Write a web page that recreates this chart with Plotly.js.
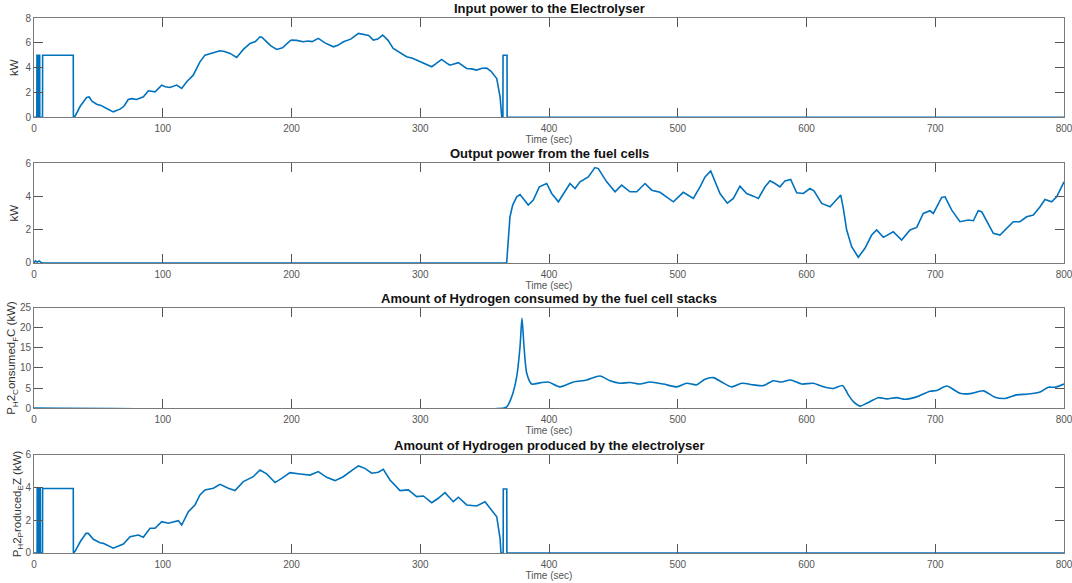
<!DOCTYPE html>
<html>
<head>
<meta charset="utf-8">
<script src="https://cdn.plot.ly/plotly-3.0.1.min.js"></script>
<style>html,body{margin:0;padding:0;background:#fff;}#chart{width:1072px;height:583px;}</style>
</head>
<body>
<div id="chart"></div>
<script>
// Panel 1: Input power to the Electrolyser (kW)
const tInput = [0, 2.2, 2.3, 3.1, 3.2, 3.5, 3.6, 4.4, 4.5, 6.6, 6.7, 30.5, 30.6,
  31.9, 36, 40.9, 42.9, 45, 48.7, 52, 56.4, 61.6, 66.8,
  70, 73.2, 76, 79.7, 82, 85, 88.8, 94, 99.2, 102,
  105.6, 110.8, 114.7, 118.6, 123.7, 128.9, 132.8, 136, 139.3, 144.5,
  148, 152.3, 157.4, 162.6, 167.8, 172, 175.5, 177, 180.7, 184,
  188.5, 193, 198.8, 200, 204, 209, 213, 216, 220.8, 226,
  232.5, 236, 240.3, 246, 252, 257, 260, 263.5, 267, 270.8,
  275, 279, 284, 289.4, 294, 299.8, 304, 308.9, 312, 316.6,
  320, 323, 329.6, 336, 340, 343.8, 348, 351.6, 355, 359.4,
  362, 363.3, 364.2, 364.3, 367.4, 367.5, 800];
const pInput = [0, 0, 5, 5, 0, 0, 5, 5, 0, 0, 5, 5, 0,
  0.09, 0.9, 1.59, 1.63, 1.3, 1.05, 0.95, 0.7, 0.43, 0.65,
  0.9, 1.43, 1.5, 1.43, 1.55, 1.64, 2.13, 2.05, 2.59, 2.45,
  2.4, 2.59, 2.32, 2.86, 3.39, 4.47, 5.01, 5.1, 5.2, 5.36,
  5.3, 5.15, 4.82, 5.47, 5.95, 6.1, 6.49, 6.45, 6.08, 5.75,
  5.47, 5.6, 6.16, 6.22, 6.2, 6.09, 6.15, 6.1, 6.36, 6.0,
  5.68, 5.8, 6.09, 6.3, 6.76, 6.63, 6.6, 6.22, 6.3, 6.63,
  6.2, 5.55, 5.2, 4.88, 4.75, 4.47, 4.3, 4.07, 4.3, 4.66,
  4.4, 4.2, 4.4, 3.93, 3.9, 3.8, 3.95, 3.97, 3.7, 3.12,
  1.64, 0, 0, 5, 5, 0, 0];

// Panel 2: Output power from the fuel cells (kW)
const tOutput = [0, 1, 2.5, 4, 5.5, 7, 367.1, 368.4, 369.7, 371.8,
  374.9, 377.5, 383.9, 387.8, 392.5, 398.2, 402.1, 407.3, 416.3, 420.2,
  424.1, 430.5, 435.7, 438.3, 444.8, 451.3, 456.4, 462.9, 468.1, 474.6,
  479.8, 486.2, 496.6, 504.3, 512.1, 517.3, 521.2, 525.6, 532.8, 538.5,
  543.2, 548.3, 553.5, 558.7, 562.6, 567.8, 571.7, 575.5, 579.4, 583.3,
  587.7, 592.4, 597.5, 602.7, 605.8, 611.8, 618.3, 623.4, 626.6, 628.6,
  631.2, 635.1, 640.2, 645.4, 650.6, 654.5, 659.7, 667.4, 673.9, 680.4,
  685.6, 690.7, 695.9, 698.5, 705, 707.6, 712.8, 719.2, 725.7, 729.6,
  733.4, 736.1, 740, 745.1, 750.3, 755.5, 760.6, 765.8, 771, 776.2,
  781.4, 785.2, 790.4, 794.3, 800];
const pOutput = [0, 0.12, 0.05, 0.12, 0.03, 0, 0, 1.78, 2.78, 3.48,
  3.98, 4.12, 3.48, 3.78, 4.58, 4.78, 4.18, 3.68, 4.78, 4.48,
  4.88, 5.18, 5.74, 5.68, 4.88, 4.28, 4.68, 4.28, 4.28, 4.78,
  4.38, 4.25, 3.68, 4.25, 3.88, 4.58, 5.18, 5.54, 4.18, 3.6,
  3.88, 4.62, 4.18, 4.02, 3.88, 4.58, 4.94, 4.78, 4.58, 4.94,
  5.02, 4.22, 4.18, 4.48, 4.34, 3.58, 3.38, 3.82, 4.08, 3.28,
  1.98, 0.98, 0.34, 0.88, 1.68, 1.98, 1.54, 1.88, 1.38, 1.98,
  2.14, 2.98, 3.14, 2.98, 3.94, 3.98, 3.18, 2.48, 2.58, 2.54,
  3.14, 3.08, 2.48, 1.78, 1.68, 2.08, 2.48, 2.48, 2.78, 2.88,
  3.38, 3.82, 3.68, 3.98, 4.88];

// Panel 3: Amount of Hydrogen consumed by the fuel cell stacks (kW)
const tConsumed = [0, 365, 367.1, 371, 374.9, 377.5, 379, 380.6, 382.7, 386.6,
  393, 399.5, 408.5, 418.9, 429.3, 439.6, 447.4, 455.1, 462.9, 470.7,
  478.4, 488.8, 499.2, 506.9, 514.7, 521.2, 527.6, 534.1, 541.9, 549.7,
  558.7, 566.4, 574.2, 580.7, 587.7, 596.3, 605.3, 613.1, 620.8, 628.1,
  632.5, 636.4, 641.6, 646.8, 655.8, 662.3, 670, 676.5, 685.6, 695.9,
  701.1, 708.9, 719.2, 727, 737.3, 746.4, 754.2, 763.2, 772.3, 781.4,
  787.8, 793, 800];
const pConsumed = [0, 0, 0.3, 2.8, 7.8, 15.3, 22.4, 15.3, 8.7, 6.0,
  6.3, 6.5, 5.3, 6.5, 7.0, 8.0, 6.8, 6.2, 6.4, 6.0,
  6.5, 6.0, 5.3, 6.2, 5.8, 7.2, 7.6, 6.5, 5.3, 6.2,
  5.8, 5.6, 6.8, 6.5, 7.0, 6.0, 6.2, 5.3, 4.9, 5.6,
  3.3, 1.6, 0.5, 1.2, 2.6, 2.3, 2.6, 2.2, 2.8, 4.2,
  4.4, 5.5, 3.7, 3.6, 4.3, 2.7, 2.4, 3.3, 3.5, 4.0,
  5.2, 5.2, 6.0];

// Panel 4: Amount of Hydrogen produced by the electrolyser (kW)
const tProduced = [0, 2.4, 2.5, 3.3, 3.4, 3.8, 3.9, 4.9, 5.0, 6.6, 6.7, 30.5, 30.6,
  31.9, 36, 40.4, 42.2, 46.1, 51.3, 53.8, 61.6, 69.4, 74.6,
  81, 84.9, 90.1, 94, 99.2, 104.3, 112.1, 114.7, 119.9, 125,
  128.9, 132.8, 139.3, 144.5, 150.9, 156.1, 162.6, 170.3, 175.5, 180.7,
  187.2, 192.4, 198.8, 206.6, 214.4, 220.8, 227.3, 233.8, 240.2, 248,
  252, 257, 262.3, 267.4, 271.3, 276.5, 284.3, 290.7, 297.2, 302.4,
  308.9, 314, 319.2, 325.7, 329.6, 336.1, 343.8, 350.3, 355.5, 359.4,
  362, 362.7, 364.4, 364.5, 367.2, 367.3, 800];
const pProduced = [0, 0, 3.95, 3.95, 0, 0, 3.95, 3.95, 0, 0, 3.95, 3.95, 0,
  0.1, 0.7, 1.2, 1.2, 0.84, 0.63, 0.59, 0.29, 0.55, 1.0,
  1.1, 0.96, 1.51, 1.51, 1.92, 1.82, 1.98, 1.71, 2.53, 2.94,
  3.55, 3.86, 3.96, 4.2, 3.96, 3.82, 4.37, 4.67, 5.08, 4.84,
  4.31, 4.57, 4.92, 4.84, 4.77, 4.98, 4.63, 4.43, 4.67, 5.12,
  5.33, 5.18, 4.88, 4.94, 5.12, 4.47, 3.82, 3.86, 3.45, 3.49,
  3.08, 3.35, 3.69, 3.14, 3.41, 2.94, 2.88, 3.14, 2.63, 2.22,
  0.9, 0, 0, 3.92, 3.92, 0, 0];

const xTicks = [0, 100, 200, 300, 400, 500, 600, 700, 800];
const yTicks1 = [0, 2, 4, 6, 8];
const yTicks2 = [0, 2, 4, 6];
const yTicks3 = [0, 5, 10, 15, 20, 25];
const yTicks4 = [0, 2, 4, 6];

const panelTitles = ['Input power to the Electrolyser', 'Output power from the fuel cells',
  'Amount of Hydrogen consumed by the fuel cell stacks', 'Amount of Hydrogen produced by the electrolyser'];
const yTitles = ['kW', 'kW', 'P<sub>H</sub>2<sub>C</sub>onsumed<sub>F</sub>C (kW)', 'P<sub>H</sub>2<sub>P</sub>roduced<sub>E</sub>Z (kW)'];
const xTitle = 'Time (sec)';

const FONT = 'Liberation Sans, Arial, sans-serif';
const LINE = {color: '#0072BD', width: 1.6};

const traces = [
  {x: tInput, y: pInput, xaxis: 'x', yaxis: 'y', type: 'scatter', mode: 'lines', line: LINE},
  {x: tOutput, y: pOutput, xaxis: 'x2', yaxis: 'y2', type: 'scatter', mode: 'lines', line: LINE},
  {x: tConsumed, y: pConsumed, xaxis: 'x3', yaxis: 'y3', type: 'scatter', mode: 'lines',
   line: Object.assign({}, LINE, {shape: 'spline', smoothing: 0.7})},
  {x: tProduced, y: pProduced, xaxis: 'x4', yaxis: 'y4', type: 'scatter', mode: 'lines', line: LINE}
];

const domains = [[0.799, 0.969], [0.549, 0.720], [0.300, 0.472], [0.0515, 0.2196]];
const yRanges = [[0, 8], [0, 6], [0, 25], [0, 6]];
const yTickSets = [yTicks1, yTicks2, yTicks3, yTicks4];

function xAxis(i) {
  return {
    domain: [0, 1], anchor: i === 0 ? 'y' : 'y' + (i + 1), range: [0, 800],
    tickmode: 'array', tickvals: xTicks, ticktext: xTicks.map(String),
    ticks: 'inside', ticklen: 9, tickcolor: '#555', ticklabeloverflow: 'allow', ticklabelstandoff: 2,
    showline: true, linecolor: '#7a7a7a', linewidth: 1, mirror: 'ticks',
    showgrid: false, zeroline: false, fixedrange: true,
    tickfont: {family: FONT, size: 10, color: '#555'},
    title: {text: xTitle, standoff: 2, font: {family: FONT, size: 10, color: '#555'}}
  };
}
function yAxis(i) {
  return {
    domain: domains[i], anchor: i === 0 ? 'x' : 'x' + (i + 1), range: yRanges[i],
    tickmode: 'array', tickvals: yTickSets[i], ticktext: yTickSets[i].map(String),
    ticks: 'inside', ticklen: 9, tickcolor: '#555', ticklabeloverflow: 'allow',
    showline: true, linecolor: '#7a7a7a', linewidth: 1, mirror: 'ticks',
    showgrid: false, zeroline: false, fixedrange: true,
    tickfont: {family: FONT, size: 10, color: '#555'},
    title: {text: yTitles[i], standoff: i < 2 ? 4 : 1, font: {family: FONT, size: 11.5, color: '#333'}}
  };
}

const H = 583;
const plotTopPx = [18, 163, 308, 455];
const annotations = [];
for (let i = 0; i < 4; i++) {
  annotations.push({
    text: '<b>' + panelTitles[i] + '</b>', xref: 'paper', yref: 'paper',
    x: 0.5, y: (H - (plotTopPx[i] - 10)) / H, xanchor: 'center', yanchor: 'middle',
    showarrow: false, font: {family: FONT, size: 13, color: '#111'}
  });
}

const layout = {
  width: 1072, height: 583,
  margin: {l: 34, r: 8, t: 0, b: 0},
  paper_bgcolor: '#fff', plot_bgcolor: '#fff',
  showlegend: false,
  font: {family: FONT},
  annotations: annotations
};
for (let i = 0; i < 4; i++) {
  layout[i === 0 ? 'xaxis' : 'xaxis' + (i + 1)] = xAxis(i);
  layout[i === 0 ? 'yaxis' : 'yaxis' + (i + 1)] = yAxis(i);
}

Plotly.newPlot('chart', traces, layout, {staticPlot: true, displayModeBar: false});
</script>
</body>
</html>
